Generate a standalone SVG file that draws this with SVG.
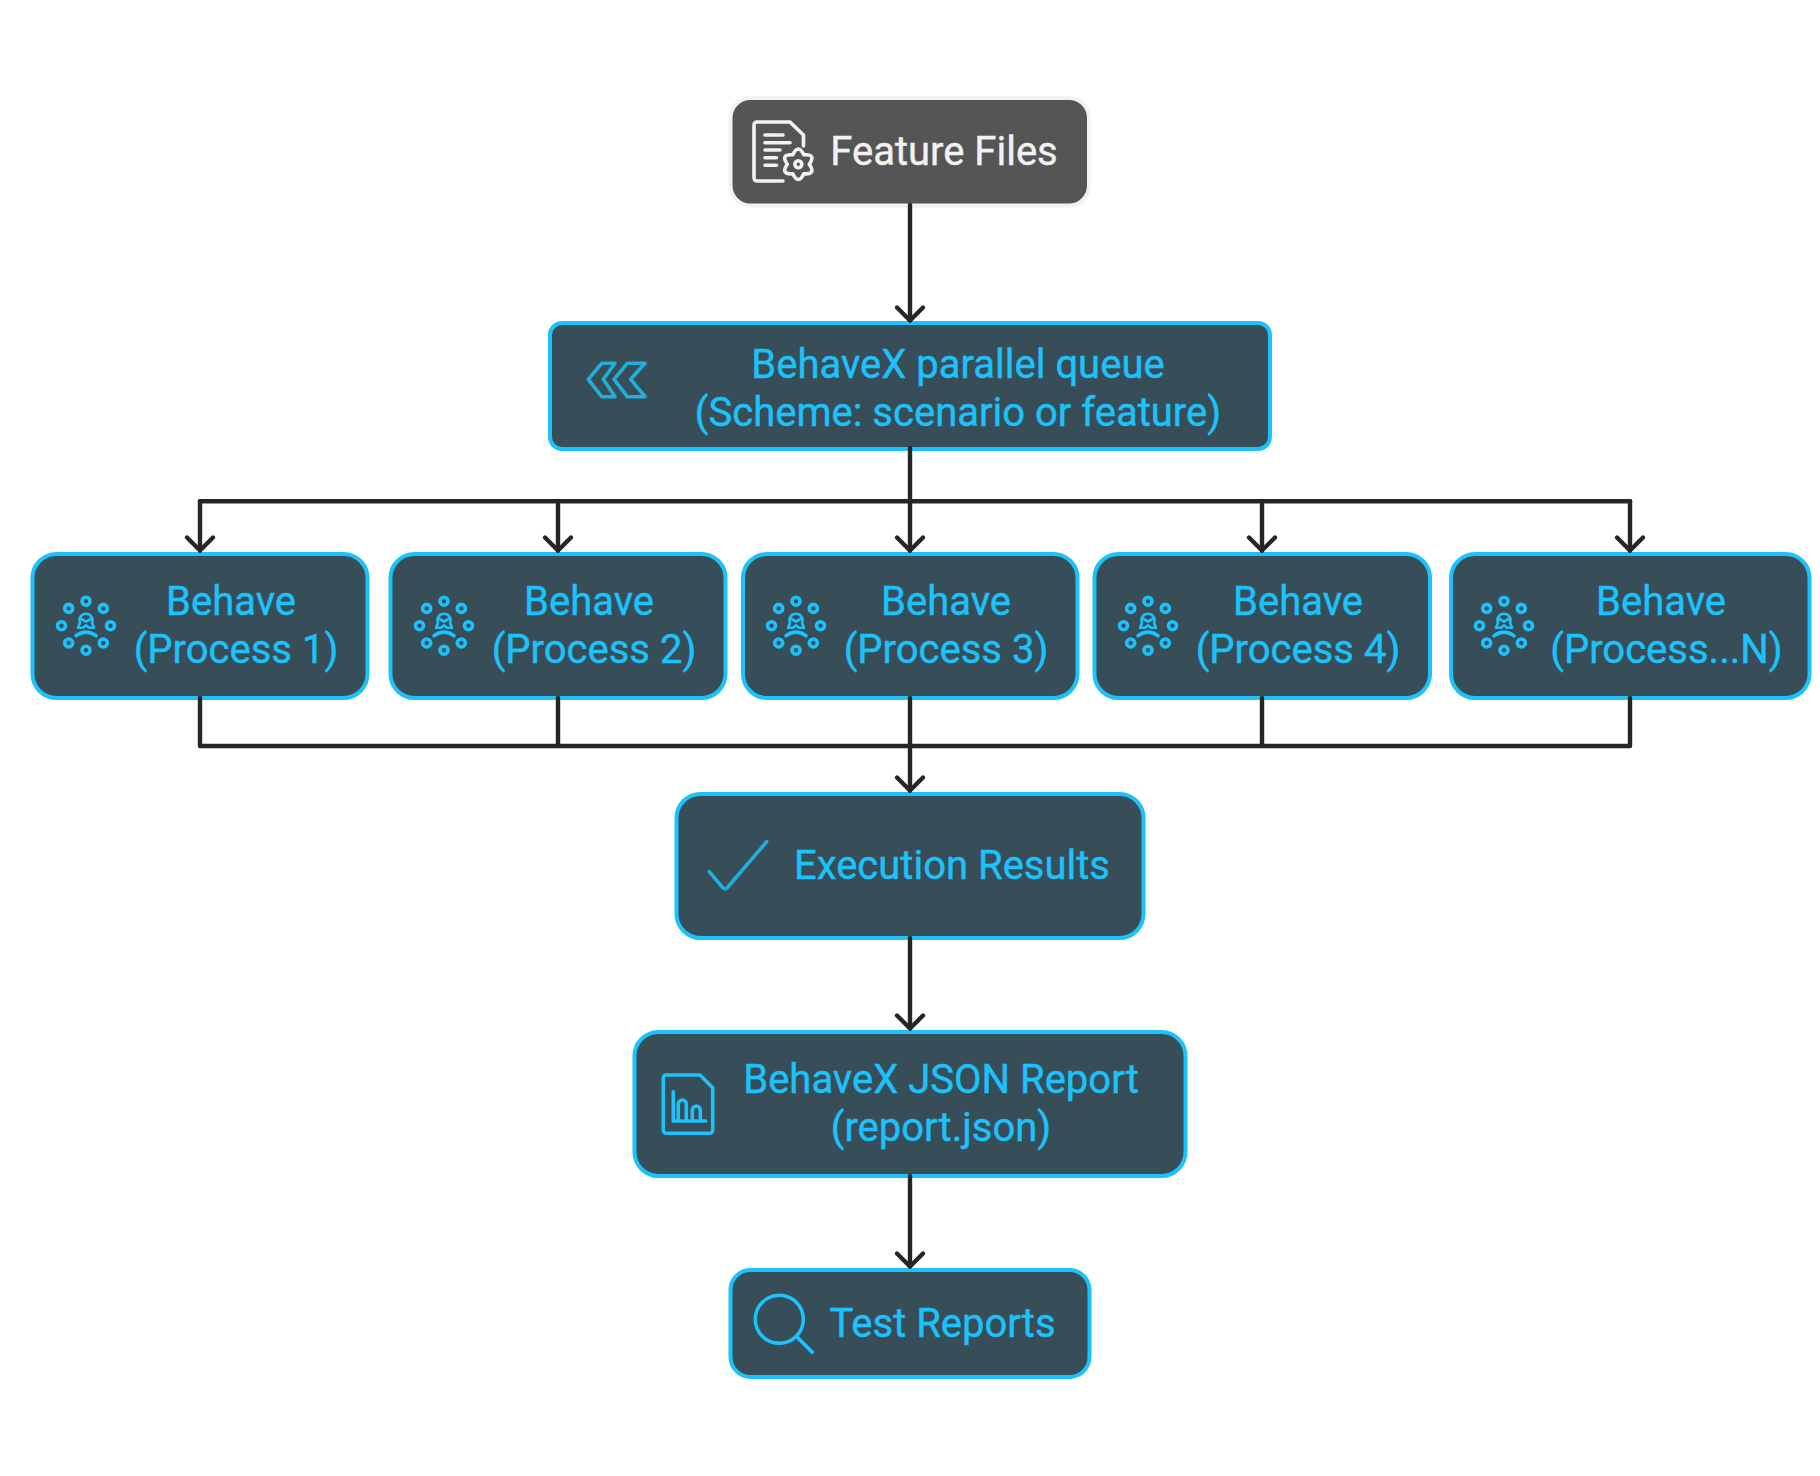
<svg xmlns="http://www.w3.org/2000/svg" width="1820" height="1476" viewBox="0 0 1820 1476">
<style>
.n{fill:#374e58;stroke:#1cc2fb;stroke-width:4}
.t{font-family:Roboto,"Liberation Sans",sans-serif;font-size:40px;fill:#1cc2fb;stroke:#1cc2fb;stroke-width:.4;text-anchor:middle}
.i{fill:none;stroke:#1cc2fb;stroke-width:3.600;stroke-linecap:round;stroke-linejoin:round}
.d{stroke:#21aedb}
.c{fill:none;stroke:#262626;stroke-width:4.400;stroke-linejoin:round;stroke-linecap:round}
</style>
<defs>
<marker id="a" markerUnits="userSpaceOnUse" markerWidth="40" markerHeight="40" refX="0" refY="0" viewBox="-20 -20 40 40" orient="auto" overflow="visible"><path d="M-13,-13L0,0L-13,13" fill="none" stroke="#262626" stroke-width="4.400" stroke-linecap="round" stroke-linejoin="round"/></marker>
<g id="proc" class="i">
<circle cx="0" cy="-24.500" r="4"/><circle cx="17.300" cy="-17.300" r="4"/><circle cx="24.500" cy="0" r="4"/><circle cx="17.300" cy="17.300" r="4"/><circle cx="0" cy="24.500" r="4"/><circle cx="-17.300" cy="17.300" r="4"/><circle cx="-24.500" cy="0" r="4"/><circle cx="-17.300" cy="-17.300" r="4"/>
<path stroke-width="2.600" style="stroke-width:2.600" d="M-6,-3a6.500,6.500 0 1 1 12,0M-6,-3l-2,5h5l3,-2.500l3,2.500h5l-2,-5M-5,-7l5,3l5,-3"/><path d="M-10,10q10,-7 20,0"/>
</g>
</defs>
<g id="feature-files">
<rect x="730.500" y="98" width="358.500" height="107.500" rx="20" fill="#555" stroke="#f2f2f2" stroke-width="4"/>
<g class="i" style="stroke:#f2f2f2">
<path d="M783,181H757a3,3 0 0 1 -3,-3V125a3,3 0 0 1 3,-3H790L803.500,135V146"/>
<path d="M765,135H783M765,142.700H790M765,150H780M765,157.700H776.500M765,165.300H776.500"/>
<path d="M792.800,154.800Q798.300,143.300 803.800,154.800Q816.500,153.800 809.300,164.300Q816.500,174.800 803.800,173.800Q798.300,185.300 792.800,173.800Q780.100,174.800 787.300,164.300Q780.100,153.800 792.800,154.800Z"/>
<circle cx="798.300" cy="164.300" r="3.500"/>
</g>
<text class="t" x="944" y="165" style="fill:#f2f2f2;stroke:#f2f2f2">Feature Files</text>
</g>
<g id="parallel-queue">
<rect class="n" x="550" y="323" width="720" height="126" rx="12"/>
<path class="i d" d="M588.300,379.300L601.700,363.300H615L603.300,379.300L615,396.700H601.700ZM614,379.300L627.300,363.300H645L630.700,379.300L645,396.700H627.300Z"/>
<text class="t" x="958" y="378">BehaveX parallel queue</text>
<text class="t" x="958" y="426">(Scheme: scenario or feature)</text>
</g>
<g id="process-1">
<rect class="n" x="32.500" y="554" width="335" height="144" rx="24"/>
<use href="#proc" x="86" y="625.700"/>
<text class="t" x="231" y="615">Behave</text>
<text class="t" x="236" y="663">(Process 1)</text>
</g>
<g id="process-2">
<rect class="n" x="390.500" y="554" width="335" height="144" rx="24"/>
<use href="#proc" x="444" y="625.700"/>
<text class="t" x="589" y="615">Behave</text>
<text class="t" x="594" y="663">(Process 2)</text>
</g>
<g id="process-3">
<rect class="n" x="743" y="554" width="334.500" height="144" rx="24"/>
<use href="#proc" x="796" y="625.700"/>
<text class="t" x="946" y="615">Behave</text>
<text class="t" x="946" y="663">(Process 3)</text>
</g>
<g id="process-4">
<rect class="n" x="1094.500" y="554" width="335.500" height="144" rx="24"/>
<use href="#proc" x="1148" y="625.700"/>
<text class="t" x="1298" y="615">Behave</text>
<text class="t" x="1298" y="663">(Process 4)</text>
</g>
<g id="process-n">
<rect class="n" x="1451" y="554" width="358.500" height="144" rx="24"/>
<use href="#proc" x="1504" y="625.700"/>
<text class="t" x="1661" y="615">Behave</text>
<text class="t" x="1666.500" y="663">(Process...N)</text>
</g>
<g id="execution-results">
<rect class="n" x="676.500" y="794" width="467" height="144" rx="24"/>
<path class="i d" d="M709.300,871.700L723,888a3,3 0 0 0 4,0L766.700,841.700"/>
<text class="t" x="952" y="879">Execution Results</text>
</g>
<g id="json-report">
<rect class="n" x="634.500" y="1032" width="551" height="144" rx="24"/>
<path class="i" d="M663.300,1078a3,3 0 0 1 3,-3H700L712.700,1087.700V1130.300a3,3 0 0 1 -3,3H666.300a3,3 0 0 1 -3,-3ZM673.300,1091.700V1121H705.700M678.300,1121V1104a3.500,3.500 0 0 1 8,0V1121M692.300,1121V1110a3.500,3.500 0 0 1 8,0V1121"/>
<text class="t" x="941" y="1093">BehaveX JSON Report</text>
<text class="t" x="941" y="1141">(report.json)</text>
</g>
<g id="test-reports">
<rect class="n" x="730.500" y="1270" width="359" height="107" rx="20"/>
<circle class="i" cx="779.300" cy="1319.300" r="24"/><path class="i" d="M797.300,1337.300L812.300,1352.300"/>
<text class="t" x="942.500" y="1337">Test Reports</text>
</g>
<g id="connectors" class="c">
<path d="M910,205V320.500" marker-end="url(#a)"/>
<path d="M910,448V550.500" marker-end="url(#a)"/>
<path d="M200,501.300H1630"/>
<path d="M200,501.300V550.500" marker-end="url(#a)"/>
<path d="M558,501.300V550.500" marker-end="url(#a)"/>
<path d="M1262,501.300V550.500" marker-end="url(#a)"/>
<path d="M1630,501.300V550.500" marker-end="url(#a)"/>
<path d="M200,698V746H1630V698M558,698V746M1262,698V746"/>
<path d="M910,698V790.500" marker-end="url(#a)"/>
<path d="M910,938V1028.500" marker-end="url(#a)"/>
<path d="M910,1176V1266.500" marker-end="url(#a)"/>
</g>
</svg>
